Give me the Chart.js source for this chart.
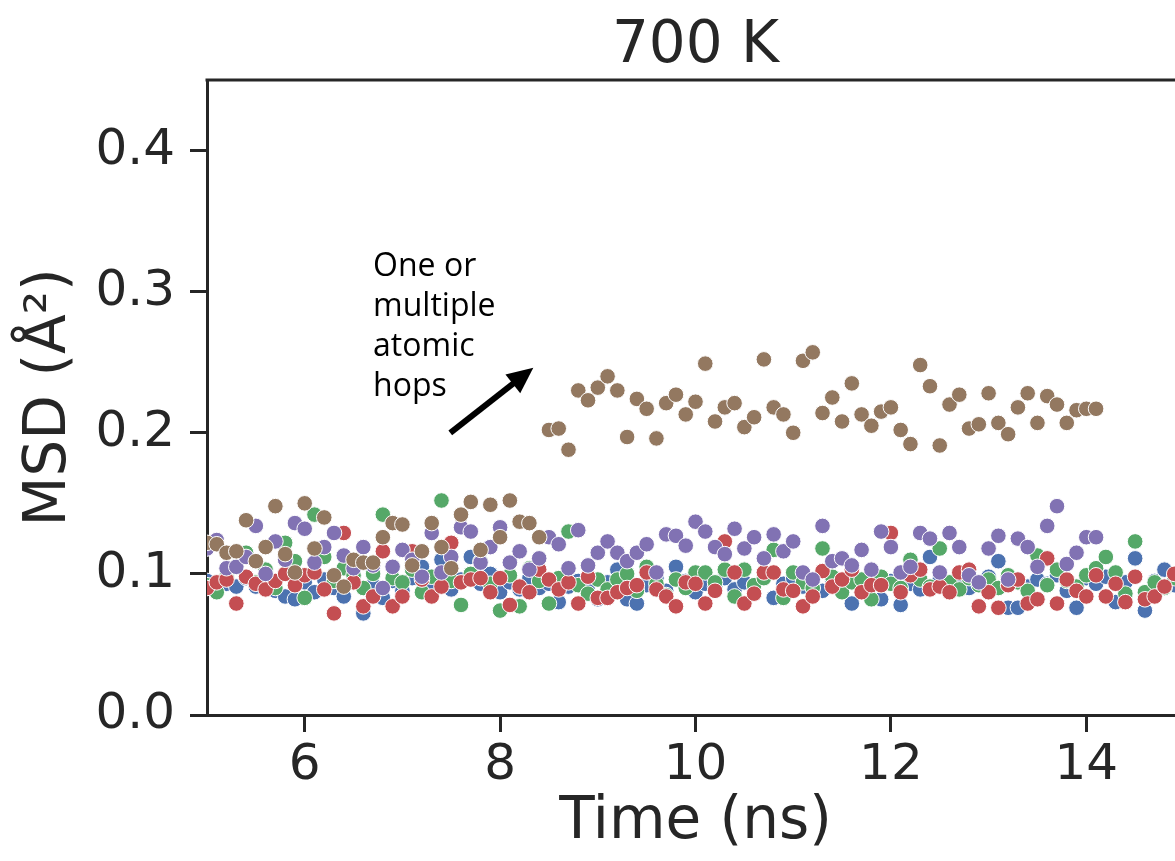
<!DOCTYPE html>
<html>
<head>
<meta charset="utf-8">
<script src="https://cdn.jsdelivr.net/npm/chart.js@4.4.1/dist/chart.umd.min.js"></script>
<style>
  html, body { margin: 0; padding: 0; background: #fff; overflow: hidden; }
  #wrap { width: 1200px; height: 861px; }
</style>
</head>
<body>
<div id="wrap"><canvas id="msdChart" width="1200" height="861"></canvas></div>
<script>
// time axis (ns), one sample every 0.1 ns
const times = [
  5.0, 5.1, 5.2, 5.3, 5.4, 5.5, 5.6, 5.7, 5.8, 5.9,
  6.0, 6.1, 6.2, 6.3, 6.4, 6.5, 6.6, 6.7, 6.8, 6.9,
  7.0, 7.1, 7.2, 7.3, 7.4, 7.5, 7.6, 7.7, 7.8, 7.9,
  8.0, 8.1, 8.2, 8.3, 8.4, 8.5, 8.6, 8.7, 8.8, 8.9,
  9.0, 9.1, 9.2, 9.3, 9.4, 9.5, 9.6, 9.7, 9.8, 9.9,
  10.0, 10.1, 10.2, 10.3, 10.4, 10.5, 10.6, 10.7, 10.8, 10.9,
  11.0, 11.1, 11.2, 11.3, 11.4, 11.5, 11.6, 11.7, 11.8, 11.9,
  12.0, 12.1, 12.2, 12.3, 12.4, 12.5, 12.6, 12.7, 12.8, 12.9,
  13.0, 13.1, 13.2, 13.3, 13.4, 13.5, 13.6, 13.7, 13.8, 13.9,
  14.0, 14.1, 14.2, 14.3, 14.4, 14.5, 14.6, 14.7, 14.8, 14.9,
  15.0
];

// MSD (Å^2) per atom, brown and purple stop at 14.1 ns
const msdBrown = [
  0.122, 0.121, 0.115, 0.116, 0.138, 0.109, 0.119, 0.148, 0.114, 0.101,
  0.150, 0.118, 0.140, 0.099, 0.091, 0.110, 0.108, 0.108, 0.126, 0.136,
  0.135, 0.106, 0.116, 0.136, 0.119, 0.104, 0.142, 0.151, 0.117, 0.149,
  0.126, 0.152, 0.137, 0.136, 0.126, 0.202, 0.203, 0.188, 0.230, 0.223,
  0.232, 0.240, 0.230, 0.197, 0.224, 0.217, 0.196, 0.221, 0.227, 0.213,
  0.222, 0.249, 0.208, 0.218, 0.221, 0.204, 0.211, 0.252, 0.218, 0.213,
  0.200, 0.251, 0.257, 0.214, 0.225, 0.208, 0.235, 0.213, 0.205, 0.215,
  0.218, 0.202, 0.192, 0.248, 0.233, 0.191, 0.220, 0.227, 0.203, 0.206,
  0.228, 0.207, 0.199, 0.218, 0.228, 0.207, 0.226, 0.220, 0.207, 0.216,
  0.217, 0.217
];
const msdPurple = [
  0.118, 0.124, 0.104, 0.105, 0.112, 0.134, 0.100, 0.123, 0.110, 0.136,
  0.132, 0.108, 0.119, 0.129, 0.113, 0.104, 0.119, 0.106, 0.090, 0.105,
  0.117, 0.110, 0.098, 0.129, 0.101, 0.112, 0.133, 0.130, 0.108, 0.119,
  0.133, 0.108, 0.116, 0.103, 0.111, 0.126, 0.121, 0.104, 0.131, 0.106,
  0.115, 0.123, 0.115, 0.109, 0.115, 0.121, 0.101, 0.128, 0.127, 0.120,
  0.137, 0.130, 0.119, 0.114, 0.132, 0.118, 0.126, 0.111, 0.128, 0.116,
  0.123, 0.101, 0.096, 0.134, 0.109, 0.111, 0.106, 0.117, 0.103, 0.130,
  0.119, 0.101, 0.105, 0.129, 0.125, 0.101, 0.129, 0.119, 0.099, 0.094,
  0.118, 0.127, 0.096, 0.125, 0.119, 0.105, 0.134, 0.148, 0.107, 0.115,
  0.126, 0.126
];
const msdRed = [
  0.090, 0.094, 0.096, 0.079, 0.098, 0.093, 0.089, 0.095, 0.100, 0.092,
  0.099, 0.101, 0.089, 0.072, 0.129, 0.094, 0.077, 0.084, 0.116, 0.077,
  0.084, 0.116, 0.096, 0.084, 0.091, 0.122, 0.094, 0.096, 0.097, 0.087,
  0.097, 0.078, 0.091, 0.087, 0.103, 0.096, 0.089, 0.094, 0.079, 0.098,
  0.083, 0.083, 0.087, 0.090, 0.092, 0.101, 0.089, 0.084, 0.077, 0.094,
  0.093, 0.079, 0.088, 0.123, 0.101, 0.079, 0.086, 0.101, 0.101, 0.089,
  0.088, 0.077, 0.084, 0.102, 0.091, 0.096, 0.103, 0.087, 0.092, 0.092,
  0.129, 0.087, 0.099, 0.103, 0.089, 0.091, 0.087, 0.101, 0.103, 0.077,
  0.087, 0.076, 0.092, 0.096, 0.079, 0.082, 0.111, 0.079, 0.096, 0.088,
  0.084, 0.099, 0.084, 0.093, 0.080, 0.098, 0.082, 0.084, 0.091, 0.100,
  0.095
];
const msdGreen = [
  0.092, 0.087, 0.098, 0.105, 0.115, 0.094, 0.103, 0.090, 0.122, 0.109,
  0.083, 0.142, 0.112, 0.095, 0.104, 0.099, 0.090, 0.100, 0.142, 0.097,
  0.094, 0.103, 0.087, 0.098, 0.152, 0.095, 0.078, 0.100, 0.109, 0.093,
  0.074, 0.099, 0.077, 0.104, 0.095, 0.079, 0.097, 0.130, 0.092, 0.086,
  0.096, 0.089, 0.096, 0.100, 0.088, 0.105, 0.093, 0.085, 0.096, 0.090,
  0.101, 0.101, 0.094, 0.103, 0.084, 0.103, 0.092, 0.097, 0.117, 0.083,
  0.101, 0.094, 0.090, 0.118, 0.098, 0.087, 0.094, 0.096, 0.082, 0.098,
  0.093, 0.090, 0.110, 0.096, 0.091, 0.118, 0.094, 0.089, 0.097, 0.092,
  0.096, 0.090, 0.099, 0.094, 0.088, 0.113, 0.092, 0.103, 0.095, 0.091,
  0.099, 0.104, 0.112, 0.101, 0.086, 0.123, 0.087, 0.094, 0.090, 0.097,
  0.092
];
const msdBlue = [
  0.095, 0.088, 0.093, 0.091, 0.097, 0.091, 0.100, 0.088, 0.084, 0.082,
  0.094, 0.087, 0.096, 0.090, 0.084, 0.098, 0.072, 0.092, 0.083, 0.095,
  0.088, 0.097, 0.105, 0.091, 0.110, 0.089, 0.096, 0.112, 0.093, 0.100,
  0.087, 0.094, 0.089, 0.097, 0.090, 0.093, 0.080, 0.091, 0.095, 0.088,
  0.082, 0.094, 0.103, 0.082, 0.079, 0.092, 0.097, 0.088, 0.105, 0.095,
  0.087, 0.093, 0.091, 0.097, 0.089, 0.094, 0.092, 0.098, 0.083, 0.093,
  0.097, 0.091, 0.095, 0.088, 0.096, 0.092, 0.079, 0.094, 0.098, 0.082,
  0.095, 0.078, 0.093, 0.089, 0.112, 0.096, 0.092, 0.097, 0.090, 0.094,
  0.098, 0.109, 0.076, 0.076, 0.091, 0.096, 0.093, 0.099, 0.088, 0.076,
  0.097, 0.093, 0.098, 0.080, 0.094, 0.111, 0.074, 0.095, 0.103, 0.092,
  0.098
];

const xTicks = [6, 8, 10, 12, 14];
const yTicks = [0.0, 0.1, 0.2, 0.3, 0.4];

const titleText = "700 K";
const noteLines = ["One or", "multiple", "atomic", "hops"];
// annotation placed in data units: text anchor, arrow tail -> tip
const noteAt = [6.70, 0.311];
const arrowFrom = [7.49, 0.200];
const arrowTo = [8.34, 0.246];

const ink = "#262626";
const fontFam = '"DejaVu Sans", sans-serif';

function toPoints(values) {
    return values.map((v, i) => ({ x: times[i], y: v }));
}

function series(label, values, color) {
    return {
        label: label,
        data: toPoints(values),
        backgroundColor: color,
        borderColor: "#ffffff",
        pointRadius: 7.8,
        pointBorderWidth: 1,
        clip: 0
    };
}

// top/right spines, title and the arrow note
const frameAndNotes = {
    id: "frameAndNotes",
    afterDraw(chart) {
        const { ctx, chartArea: a, scales: { x, y } } = chart;
        ctx.save();
        ctx.strokeStyle = ink;
        ctx.lineWidth = 3;
        ctx.beginPath();
        ctx.moveTo(a.left - 1.5, a.top);
        ctx.lineTo(a.right, a.top);
        ctx.lineTo(a.right, a.bottom);
        ctx.stroke();

        ctx.fillStyle = ink;
        ctx.font = "58px " + fontFam;
        ctx.textAlign = "center";
        ctx.textBaseline = "alphabetic";
        ctx.fillText(titleText, (a.left + a.right) / 2, 62);

        ctx.fillStyle = "#000";
        ctx.font = '32px "Open Sans", sans-serif';
        ctx.textAlign = "left";
        const tx = x.getPixelForValue(noteAt[0]);
        const ty = y.getPixelForValue(noteAt[1]);
        noteLines.forEach((line, i) => ctx.fillText(line, tx, ty + i * 40));

        const x0 = x.getPixelForValue(arrowFrom[0]), y0 = y.getPixelForValue(arrowFrom[1]);
        const x1 = x.getPixelForValue(arrowTo[0]), y1 = y.getPixelForValue(arrowTo[1]);
        const ang = Math.atan2(y1 - y0, x1 - x0);
        const head = 26, half = 12;
        const bx = x1 - head * Math.cos(ang), by = y1 - head * Math.sin(ang);
        ctx.strokeStyle = "#000";
        ctx.lineWidth = 6;
        ctx.beginPath();
        ctx.moveTo(x0, y0);
        ctx.lineTo(bx + 4 * Math.cos(ang), by + 4 * Math.sin(ang));
        ctx.stroke();
        ctx.beginPath();
        ctx.moveTo(x1, y1);
        ctx.lineTo(bx + half * Math.sin(ang), by - half * Math.cos(ang));
        ctx.lineTo(bx - half * Math.sin(ang), by + half * Math.cos(ang));
        ctx.closePath();
        ctx.fill();
        ctx.restore();
    }
};

const ctx = document.getElementById("msdChart").getContext("2d");
new Chart(ctx, {
    type: "scatter",
    data: {
        datasets: [
            series("brown", msdBrown, "#937860"),
            series("purple", msdPurple, "#8172B3"),
            series("red", msdRed, "#C44E52"),
            series("green", msdGreen, "#55A868"),
            series("blue", msdBlue, "#4C72B0")
        ]
    },
    options: {
        responsive: false,
        animation: false,
        devicePixelRatio: 1,
        events: [],
        layout: { padding: { top: 80, right: 16, bottom: 0, left: 0 } },
        plugins: {
            legend: { display: false },
            title: { display: false },
            tooltip: { enabled: false }
        },
        scales: {
            x: {
                type: "linear",
                min: 5,
                max: 15,
                afterBuildTicks: s => { s.ticks = xTicks.map(v => ({ value: v })); },
                afterFit: s => { s.height = 146; },
                grid: { drawOnChartArea: false, tickLength: 17, tickWidth: 3, tickColor: ink },
                border: { display: true, color: ink, width: 3 },
                ticks: {
                    color: ink,
                    padding: 4,
                    maxRotation: 0,
                    autoSkip: false,
                    font: { family: fontFam, size: 50, lineHeight: 1.2 },
                    callback: v => String(v)
                },
                title: {
                    display: true,
                    text: "Time (ns)",
                    color: ink,
                    font: { family: fontFam, size: 58, lineHeight: 1 },
                    padding: { top: 0, bottom: 9 }
                }
            },
            y: {
                type: "linear",
                min: 0,
                max: 0.45,
                afterBuildTicks: s => { s.ticks = yTicks.map(v => ({ value: v })); },
                afterFit: s => { s.width = 207; },
                grid: { drawOnChartArea: false, tickLength: 17, tickWidth: 3, tickColor: ink },
                border: { display: true, color: ink, width: 3 },
                ticks: {
                    color: ink,
                    padding: 15,
                    font: { family: fontFam, size: 50 },
                    callback: v => v.toFixed(1)
                },
                title: {
                    display: true,
                    text: "MSD (Å²)",
                    color: ink,
                    font: { family: fontFam, size: 58, lineHeight: 1 },
                    padding: { top: 21, bottom: 0 }
                }
            }
        }
    },
    plugins: [frameAndNotes]
});
</script>
</body>
</html>
